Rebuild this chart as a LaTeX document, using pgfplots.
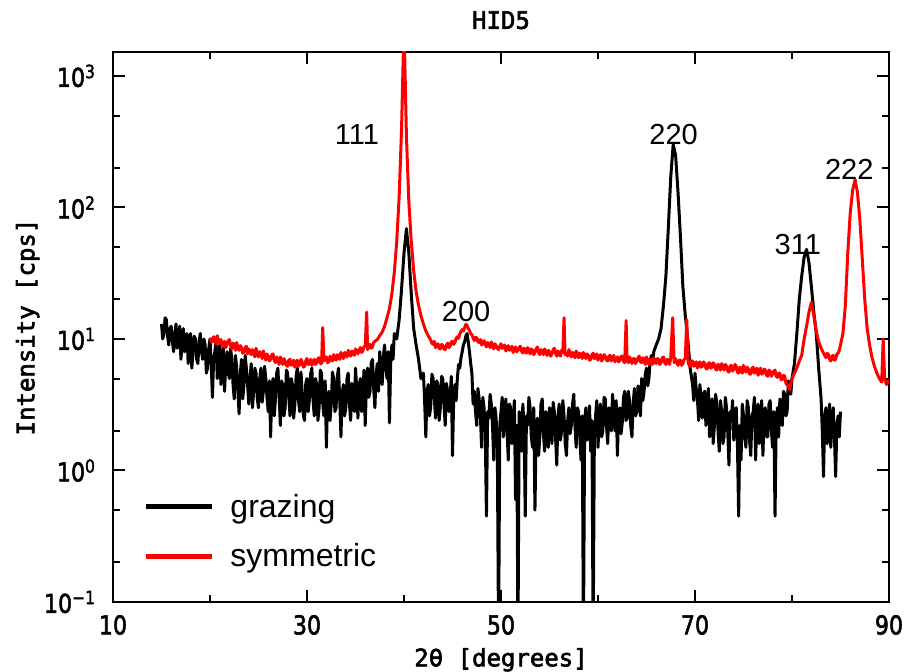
\documentclass[border=0pt]{standalone}
\usepackage{fontspec}
\setmainfont{Liberation Sans}
\newfontfamily\tickfont[FakeStretch=0.85,FakeBold=2]{DejaVu Sans}
\newfontfamily\labfont[FakeBold=2.5]{DejaVu Sans Mono}
\usepackage{pgfplots}
\pgfplotsset{compat=1.18}

\begin{document}
\begin{tikzpicture}
\begin{axis}[
  name=ax,
  scale only axis, width=388pt, height=275pt,
  xmin=10, xmax=90,
  ymode=log, ymin=0.1, ymax=1520,
  xtick={10,30,50,70,90}, xticklabels={10,30,50,70,90},
  minor xtick={20,40,60,80},
  ytick={0.1,1,10,100,1000},
  yticklabels={10\textsuperscript{−1},10\textsuperscript{0},10\textsuperscript{1},10\textsuperscript{2},10\textsuperscript{3}},
  minor ytick={0.2,0.5,2,5,20,50,200,500},
  major tick length=6pt, minor tick length=3.5pt,
  every tick/.style={black, line width=1pt},
  axis line style={line width=1pt},
  tick label style={font=\tickfont\fontsize{13}{13}\selectfont},
  xticklabel style={yshift=-3pt},
  yticklabel style={xshift=-5pt},
  title={HID5},
  title style={font=\labfont\fontsize{12}{12}\selectfont, at={(axis description cs:0.5,1.036)}, anchor=center},
  xlabel={2θ [degrees]},
  xlabel style={font=\labfont\fontsize{12}{12}\selectfont, at={(axis description cs:0.5,-0.105)}, anchor=center},
  ylabel={Intensity [cps]},
  ylabel style={font=\labfont\fontsize{12}{12}\selectfont, at={(axis description cs:-0.11,0.5)}, anchor=center},
  legend style={at={(rel axis cs:0.031,0.212)}, anchor=north west, draw=none, fill=none,
    font=\fontsize{16}{16}\selectfont, row sep=7.5pt, column sep=6pt},
  legend cell align=left,
  legend image code/.code={\draw[#1, line width=2.5pt] (0pt,0pt) -- (33pt,0pt);},
]
% grazing
\addplot[black, line width=1.5pt, line join=round] coordinates {
(15.000,13)(15.125,10)(15.250,11)(15.375,14.5)(15.500,14)(15.625,10.5)(15.750,9)(15.875,12)
(16.000,12.5)(16.125,9.5)(16.250,8)(16.375,11)(16.500,13)(16.625,8.5)(16.750,10)(16.875,12.5)
(17.000,7)(17.125,9)(17.250,12)(17.375,8)(17.500,9)(17.625,11)(17.750,6.5)(17.875,9.5)
(18.000,11)(18.125,6)(18.250,8)(18.375,10.5)(18.500,10)(18.625,7)(18.750,6.5)(18.875,9.5)
(19.000,11)(19.125,8)(19.250,7)(19.375,10)(19.500,9)(19.625,5.5)(19.750,6)(19.875,8.5)
(20.000,10)(20.125,6.5)(20.250,3.6)(20.375,7)(20.500,8)(20.625,9.5)(20.750,5)(20.875,7.5)
(21.000,9)(21.125,4.5)(21.250,6)(21.375,8.5)(21.500,4)(21.625,6.5)(21.750,8)(21.875,5.5)
(22.000,5)(22.125,8.5)(22.250,7)(22.375,4.5)(22.500,3.5)(22.625,7.5)(22.750,6)(22.875,4)
(23.000,2.7)(23.125,5.5)(23.250,7)(23.375,3.5)(23.500,4.5)(23.625,7.5)(23.750,6)(23.875,4.5)
(24.000,3.2)(24.125,5)(24.250,6.5)(24.375,3)(24.500,4)(24.625,6)(24.750,5.5)(24.875,3.5)
(25.000,3)(25.125,5)(25.250,6)(25.375,3.3)(25.500,4)(25.625,6.2)(25.750,5)(25.875,3.6)
(26.000,2.8)(26.125,4.8)(26.250,1.8)(26.375,4.2)(26.500,5)(26.625,2.6)(26.750,3.5)(26.875,5.5)
(27.000,6)(27.125,3.8)(27.250,2.2)(27.375,4.8)(27.500,4.5)(27.625,2.6)(27.750,3)(27.875,5.8)
(28.000,5.5)(28.125,3.6)(28.250,2.6)(28.375,5)(28.500,4.5)(28.625,2.5)(28.750,3.2)(28.875,5.2)
(29.000,6)(29.125,3.4)(29.250,2.8)(29.375,5.6)(29.500,4)(29.625,2.6)(29.750,2.4)(29.875,4.6)
(30.000,5)(30.125,2.8)(30.250,3.5)(30.375,5.4)(30.500,6)(30.625,3.4)(30.750,2.6)(30.875,5)
(31.000,4.5)(31.125,2.4)(31.250,3)(31.375,5.8)(31.500,5.5)(31.625,3.2)(31.750,2.6)(31.875,4.8)
(32.000,1.5)(32.125,3.6)(32.250,4)(32.375,2.4)(32.500,3.2)(32.625,5.6)(32.750,5)(32.875,2.8)
(33.000,3)(33.125,5.2)(33.250,6)(33.375,3.4)(33.500,1.8)(33.625,3.8)(33.750,4.5)(33.875,2.6)
(34.000,3)(34.125,5)(34.250,5.5)(34.375,3.2)(34.500,2.4)(34.625,4.6)(34.750,4)(34.875,2.8)
(35.000,6)(35.125,4.2)(35.250,2.5)(35.375,4.4)(35.500,5)(35.625,2.8)(35.750,3.5)(35.875,5.8)
(36.000,2.2)(36.125,4.4)(36.250,6)(36.375,3.6)(36.500,4)(36.625,6.6)(36.750,7)(36.875,4.2)
(37.000,3)(37.125,5.4)(37.250,6.5)(37.375,4)(37.500,8)(37.625,5.6)(37.750,4.5)(37.875,7.4)
(38.000,9)(38.125,6)(38.250,5)(38.375,8)(38.500,2.3)(38.625,6.5)(38.750,9)(38.875,7)
(39.00,11)(39.25,10)(39.50,14)(39.75,24)(40.00,45)(40.25,69)(40.50,45)(40.75,22)
(41.00,12)(41.25,9)(41.50,7)(41.75,5)
(42.000,5.5)(42.125,3.4)(42.250,1.8)(42.375,4)(42.500,4.5)(42.625,2.6)(42.750,3)(42.875,5.4)
(43.000,5)(43.125,3.6)(43.250,2.5)(43.375,4.8)(43.500,4.5)(43.625,2.4)(43.750,3)(43.875,5.2)
(44.000,5)(44.125,3.2)(44.250,2.2)(44.375,4.6)(44.500,4)(44.625,2.8)(44.750,3.5)(44.875,5.2)
(45.000,1.3)(45.125,3.6)(45.250,4.5)(45.375,3.4)(45.500,5)(45.625,6.4)(45.750,6)(45.875,7.2)
(46.000,8)(46.125,9)(46.250,9.5)(46.375,10.5)(46.500,11)(46.625,9.5)(46.750,8)(46.875,6.5)
(47.000,5.5)(47.125,3.2)(47.250,4)(47.375,2.8)(47.500,2.2)(47.625,4.2)(47.750,3.5)(47.875,2.6)
(48.000,1.5)(48.125,3.6)(48.250,3)(48.375,2)(48.500,0.45)(48.625,2.8)(48.750,2.5)(48.875,3.8)
(49.000,3.2)(49.125,2.2)(49.250,1.2)(49.375,3)(49.500,2.5)(49.625,1.4)(49.750,0.05)(49.875,2.2)
(50.000,2.8)(50.125,3.6)(50.250,1.8)(50.375,2.6)(50.500,3.5)(50.625,2)(50.750,1.2)(50.875,3.2)
(51.000,3)(51.125,1.6)(51.250,2)(51.375,3.4)(51.500,0.6)(51.625,2.2)(51.750,0.05)(51.875,2.8)
(52.000,2.5)(52.125,1.4)(52.250,3.2)(52.375,2.2)(52.500,0.45)(52.625,2.6)(52.750,2.2)(52.875,3.6)
(53.000,3)(53.125,1.8)(53.250,1.5)(53.375,3)(53.500,0.5)(53.625,2)(53.750,2.5)(53.875,1.3)
(54.000,1.8)(54.125,3.2)(54.250,3.5)(54.375,1.9)(54.500,1.4)(54.625,2.8)(54.750,2.5)(54.875,1.5)
(55.000,3)(55.125,2.2)(55.250,1.6)(55.375,3.3)(55.500,2.8)(55.625,1.8)(55.750,1.1)(55.875,2.6)
(56.000,3.2)(56.125,1.7)(56.250,2)(56.375,3.4)(56.500,2.6)(56.625,1.6)(56.750,1.3)(56.875,2.4)
(57.000,3)(57.125,1.9)(57.250,2.2)(57.375,3.2)(57.500,3.8)(57.625,2.2)(57.750,1.5)(57.875,3)
(58.000,2.8)(58.125,1.8)(58.250,1.2)(58.375,2.6)(58.500,0.05)(58.625,2.4)(58.750,3)(58.875,1.7)
(59.000,2)(59.125,3.1)(59.250,1.4)(59.375,2.4)(59.500,0.05)(59.625,1.8)(59.750,2.6)(59.875,3.4)
(60.000,1.5)(60.125,2.4)(60.250,3.2)(60.375,1.8)(60.500,2)(60.625,3.6)(60.750,3.5)(60.875,2.2)
(61.000,1.6)(61.125,3)(61.250,2.8)(61.375,2)(61.500,3.8)(61.625,2.6)(61.750,2)(61.875,3.4)
(62.000,1.3)(62.125,2.8)(62.250,3)(62.375,1.9)(62.500,2.3)(62.625,3.6)(62.750,4)(62.875,2.4)
(63.000,2.5)(63.125,4)(63.250,3.4)(63.375,2.2)(63.500,1.8)(63.625,3.2)(63.750,4.2)(63.875,2.6)
(64.000,2.8)(64.125,4.4)(64.250,3.6)(64.375,2.6)(64.500,5)(64.625,3.4)(64.750,4)(64.875,5.4)
(65.000,6)(65.125,4.4)(65.250,5)(65.375,6.8)(65.500,7.5)(65.625,6.6)(65.750,8)
(66.00,9)(66.25,10)(66.50,12)(66.75,18)(67.00,30)(67.25,70)(67.50,170)(67.75,300)
(68.00,250)(68.25,130)(68.50,60)(68.75,25)(69.00,15)(69.25,10)(69.50,6)(69.75,4.5)
(69.875,3.4)(70.000,5.5)(70.125,4.2)(70.250,3.5)(70.375,2.4)(70.500,4.5)(70.625,3.6)(70.750,2.5)
(70.875,3.8)(71.000,4)(71.125,2.2)(71.250,3)(71.375,4.2)(71.500,1.8)(71.625,2.6)(71.750,3.5)
(71.875,1.6)(72.000,2.2)(72.125,3.8)(72.250,3.2)(72.375,2)(72.500,1.4)(72.625,3.4)(72.750,2.8)
(72.875,1.6)(73.000,1.8)(73.125,3.6)(73.250,3)(73.375,2)(73.500,1.1)(73.625,2.8)(73.750,2.5)
(73.875,3.4)(74.000,1.7)(74.125,2.4)(74.250,3)(74.375,1.6)(74.500,0.45)(74.625,2.2)(74.750,1.2)
(74.875,3.2)(75.000,2.6)(75.125,1.8)(75.250,1.5)(75.375,3.4)(75.500,3)(75.625,1.7)(75.750,1.3)
(75.875,2.6)(76.000,2.8)(76.125,3.6)(76.250,1.2)(76.375,2.4)(76.500,3.2)(76.625,1.6)(76.750,2)
(76.875,3.4)(77.000,1.3)(77.125,2.6)(77.250,3)(77.375,1.8)(77.500,1.8)(77.625,3.2)(77.750,3.4)
(77.875,2)(78.000,1.5)(78.125,2.8)(78.250,0.45)(78.375,2.4)(78.500,3)(78.625,1.8)(78.750,3.5)
(78.875,2.6)(79.000,2.2)(79.125,4)(79.250,3.8)(79.375,2.6)(79.500,2.8)(79.625,4.8)(79.750,4.5)
(79.875,3.8)(80.00,5)(80.25,6.5)(80.50,11)(80.75,20)(81.00,30)(81.25,42)(81.50,48)
(81.75,38)(82.00,25)(82.25,16)(82.50,11)(82.75,6)
(83.000,3.5)(83.125,2)(83.250,0.9)(83.375,2.6)(83.500,3)(83.625,1.6)(83.750,2)(83.875,3.2)
(84.000,1.5)(84.125,2.4)(84.250,3)(84.375,1.8)(84.500,0.9)(84.625,2.2)(84.750,2.6)(84.875,1.8)
(85.000,2.8)
};
\addlegendentry{grazing}
% symmetric
\addplot[red, line width=1.5pt, line join=round] coordinates {
(20.000,10.2)(20.125,9.6)(20.250,9.5)(20.375,10.4)(20.500,9.9)(20.625,9.2)(20.750,10.6)(20.875,9.7)
(21.000,9.3)(21.125,9.9)(21.250,8.8)(21.375,9.2)(21.500,9.6)(21.625,8.6)(21.750,9.1)(21.875,9.7)
(22.000,9.9)(22.125,8.9)(22.250,8.4)(22.375,9.3)(22.500,8.9)(22.625,8.2)(22.750,9.4)(22.875,8.6)
(23.000,8.2)(23.125,8.9)(23.250,8.6)(23.375,7.8)(23.500,7.9)(23.625,8.6)(23.750,8.8)(23.875,7.7)
(24.000,8.4)(24.125,8.0)(24.250,7.6)(24.375,8.3)(24.500,7.9)(24.625,7.3)(24.750,8.5)(24.875,7.7)
(25.000,7.3)(25.125,8.0)(25.250,7.7)(25.375,7.1)(25.500,8.1)(25.625,7.4)(25.750,6.9)(25.875,7.7)
(26.000,7.4)(26.125,6.8)(26.250,7.0)(26.375,7.6)(26.500,7.7)(26.625,6.9)(26.750,6.6)(26.875,7.3)
(27.000,6.9)(27.125,6.4)(27.250,7.3)(27.375,6.9)(27.500,6.4)(27.625,7.1)(27.750,6.8)(27.875,6.3)
(28.000,6.2)(28.125,6.9)(28.250,7.0)(28.375,6.3)(28.500,6.5)(28.625,6.9)(28.750,6.1)(28.875,6.6)
(29.000,6.9)(29.125,6.2)(29.250,6.4)(29.375,7.0)(29.500,6.7)(29.625,6.1)(29.750,6.2)(29.875,6.8)
(30.000,7.1)(30.125,6.4)(30.250,6.5)(30.375,7.0)(30.500,6.3)(30.625,6.6)(30.750,7.0)(30.875,6.4)
(31.000,6.6)(31.125,7.1)(31.250,7.2)(31.375,6.5)(31.500,6.5)(31.620,12.2)(31.750,6.8)(31.875,7.2)
(32.000,7.3)(32.125,6.6)(32.250,6.7)(32.375,7.4)(32.500,7.0)(32.625,6.8)(32.750,7.6)(32.875,7.1)
(33.000,6.9)(33.125,7.6)(33.250,7.4)(33.375,7.0)(33.500,7.9)(33.625,7.5)(33.750,7.1)(33.875,7.9)
(34.000,7.6)(34.125,7.3)(34.250,8.2)(34.375,7.8)(34.500,7.4)(34.625,8.1)(34.750,7.9)(34.875,7.5)
(35.000,8.4)(35.125,8.0)(35.250,7.7)(35.375,8.3)(35.500,8.6)(35.625,7.9)(35.750,8.1)(35.875,8.7)
(36.000,8.8)(36.150,16)(36.250,8.3)(36.375,8.9)(36.500,9.1)(36.625,8.5)(36.750,8.7)(36.875,9.4)
(37.00,9.6)(37.25,9.9)(37.50,10.6)(37.75,11.3)(38.00,12.5)(38.25,14.5)(38.50,17)(38.75,22)
(39.00,32)(39.25,55)(39.50,120)(39.75,400)(40.00,2500)(40.25,350)(40.50,110)(40.75,55)
(41.00,33)(41.25,23)(41.50,18)(41.75,15)(42.00,13)(42.25,11.5)(42.50,10.6)
(42.750,9.8)(42.875,9.3)(43.000,9.1)(43.125,9.6)(43.250,8.6)(43.375,8.9)(43.500,9.2)(43.625,8.5)
(43.750,8.4)(43.875,9.1)(44.000,8.9)(44.125,8.4)(44.250,8.3)(44.375,9.0)(44.500,9.3)(44.625,8.6)
(44.750,8.8)(44.875,9.5)(45.000,9.6)(45.125,9.1)(45.250,9.4)(45.375,10.1)(45.500,10.4)(45.625,10.1)
(45.750,10.9)(45.875,11.4)(46.000,11.8)(46.125,11.5)(46.250,12.2)(46.375,12.9)(46.500,12.7)(46.625,12.0)
(46.750,11.6)(46.875,11.0)(47.000,10.8)(47.125,10.2)(47.250,9.7)(47.375,10.3)(47.500,10.2)(47.625,9.5)
(47.750,9.4)(47.875,9.9)(48.000,9.0)(48.125,9.3)(48.250,9.7)(48.375,9.1)(48.500,8.7)(48.625,9.4)
(48.750,9.1)(48.875,8.6)(49.000,9.5)(49.125,8.9)(49.250,8.4)(49.375,9.2)(49.500,8.9)(49.625,8.5)
(49.750,8.3)(49.875,8.8)(50.000,9.2)(50.125,8.5)(50.250,8.6)(50.375,9.0)(50.500,8.1)(50.625,8.4)
(50.750,8.9)(50.875,8.2)(51.000,8.4)(51.125,8.8)(51.250,7.9)(51.375,8.3)(51.500,8.7)(51.625,8.0)
(51.750,8.2)(51.875,8.6)(52.000,8.8)(52.125,8.1)(52.250,7.8)(52.375,8.5)(52.500,8.3)(52.625,7.8)
(52.750,8.6)(52.875,8.2)(53.000,7.7)(53.125,8.4)(53.250,8.2)(53.375,7.6)(53.500,7.9)(53.625,8.4)
(53.750,8.7)(53.875,7.9)(54.000,7.6)(54.125,8.3)(54.250,8.1)(54.375,7.6)(54.500,8.4)(54.625,8.0)
(54.750,7.5)(54.875,8.2)(55.000,8.0)(55.125,7.4)(55.250,7.7)(55.375,8.3)(55.500,8.5)(55.625,7.8)
(55.750,7.4)(55.875,8.1)(56.000,7.9)(56.125,7.4)(56.250,8.2)(56.375,7.9)(56.500,14.5)(56.600,7.6)
(56.750,7.8)(56.875,7.4)(57.000,8.3)(57.125,7.8)(57.250,7.3)(57.375,7.9)(57.500,7.7)(57.625,7.2)
(57.750,8.1)(57.875,7.6)(58.000,7.2)(58.125,7.8)(58.250,7.6)(58.375,7.1)(58.500,7.9)(58.625,7.5)
(58.750,7.1)(58.875,7.7)(59.000,7.5)(59.125,6.9)(59.250,7.0)(59.375,7.6)(59.500,7.8)(59.625,7.1)
(59.750,7.2)(59.875,7.7)(60.000,6.9)(60.125,7.3)(60.250,7.6)(60.375,6.8)(60.500,7.1)(60.625,7.6)
(60.750,7.4)(60.875,6.9)(61.000,6.8)(61.125,7.4)(61.250,7.5)(61.375,6.8)(61.500,7.2)(61.625,7.5)
(61.750,6.7)(61.875,7.0)(62.000,7.3)(62.125,6.7)(62.250,6.9)(62.375,7.4)(62.500,7.4)(62.625,6.8)
(62.750,6.6)(62.900,13.8)(63.000,7.0)(63.125,6.6)(63.250,7.3)(63.375,7.0)(63.500,6.5)(63.625,7.1)
(63.750,7.1)(63.875,6.5)(64.000,6.8)(64.125,7.2)(64.250,7.4)(64.375,6.7)(64.500,6.6)(64.625,7.2)
(64.750,6.9)(64.875,6.4)(65.000,7.3)(65.125,6.9)(65.250,6.4)(65.375,7.0)(65.500,6.9)(65.625,6.4)
(65.750,7.2)(65.875,6.8)(66.000,6.5)(66.125,7.1)(66.250,7.0)(66.375,6.4)(66.500,6.6)(66.625,7.2)
(66.750,7.3)(66.875,6.6)(67.000,6.4)(67.125,7.0)(67.250,6.9)(67.375,6.4)(67.500,7.2)(67.700,14.5)
(67.850,6.6)(68.000,7.1)(68.125,6.6)(68.250,6.3)(68.375,6.9)(68.500,6.9)(68.625,6.3)(68.750,6.5)
(68.875,7.0)(69.000,7.1)(69.150,14)(69.300,6.6)(69.400,6.3)(69.500,6.2)(69.625,6.8)(69.750,6.8)
(69.875,6.2)(70.000,6.4)(70.125,6.7)(70.250,6.0)(70.375,6.4)(70.500,6.7)(70.625,6.1)(70.750,6.2)
(70.875,6.7)(71.000,6.5)(71.125,6.0)(71.250,5.9)(71.375,6.5)(71.500,6.6)(71.625,6.0)(71.750,6.1)
(71.875,6.6)(72.000,6.4)(72.125,5.9)(72.250,5.8)(72.375,6.4)(72.500,6.3)(72.625,5.8)(72.750,6.5)
(72.875,6.2)(73.000,5.8)(73.125,6.4)(73.250,6.2)(73.375,5.7)(73.500,5.6)(73.625,6.2)(73.750,6.3)
(73.875,5.7)(74.000,5.9)(74.125,6.4)(74.250,6.2)(74.375,5.6)(74.500,5.5)(74.625,6.1)(74.750,6.0)
(74.875,5.5)(75.000,6.3)(75.125,5.9)(75.250,5.6)(75.375,6.1)(75.500,5.9)(75.625,5.4)(75.750,5.4)
(75.875,6.0)(76.000,6.1)(76.125,5.5)(76.250,5.7)(76.375,6.0)(76.500,5.3)(76.625,5.6)(76.750,6.0)
(76.875,5.4)(77.000,5.5)(77.125,5.9)(77.250,5.8)(77.375,5.3)(77.500,5.2)(77.625,5.8)(77.750,5.7)
(77.875,5.2)(78.000,5.4)(78.125,5.7)(78.250,5.8)(78.375,5.2)(78.500,5.1)(78.625,5.5)(78.750,5.5)
(78.875,4.9)(79.000,4.9)(79.125,5.3)(79.250,5.2)(79.375,4.6)(79.500,4.5)(79.625,4.4)(79.750,4.1)
(79.875,4.6)(80.00,5.0)(80.25,5.5)(80.50,6)(80.75,6.8)(81.00,7.5)(81.25,10)(81.50,12.5)
(81.75,16)(82.00,19)(82.25,15)(82.50,11.5)(82.75,9.5)(83.00,8.5)(83.25,7.8)(83.50,7.2)
(83.625,7.8)(83.750,7.6)(83.875,7.0)(84.000,6.8)(84.125,7.4)(84.250,7.5)(84.375,6.9)(84.500,7.0)
(84.625,7.7)(84.750,7.8)(84.875,8.2)(85.00,9)(85.25,11)(85.50,18)(85.75,45)(86.00,90)
(86.25,135)(86.50,163)(86.75,130)(87.00,80)(87.25,40)(87.50,20)(87.75,12)(88.00,9)
(88.25,7.2)(88.50,6.2)(88.75,5.5)(89.00,5)(89.25,4.7)(89.40,10)(89.55,5)(89.75,4.5)(90.00,4.9)
};
\addlegendentry{symmetric}
\node[font=\fontsize{14.5}{14.5}\selectfont] at (axis cs:35.15,359) {111};
\node[font=\fontsize{14.5}{14.5}\selectfont] at (axis cs:46.4,16.2) {200};
\node[font=\fontsize{14.5}{14.5}\selectfont] at (axis cs:67.8,359) {220};
\node[font=\fontsize{14.5}{14.5}\selectfont] at (axis cs:80.6,52.3) {311};
\node[font=\fontsize{14.5}{14.5}\selectfont] at (axis cs:85.9,195) {222};
\end{axis}
\pgfresetboundingbox
\path[use as bounding box] ([shift={(-56.5pt,-34.5pt)}]ax.south west) rectangle ([shift={(8.5pt,26pt)}]ax.north east);
\end{tikzpicture}
\end{document}
